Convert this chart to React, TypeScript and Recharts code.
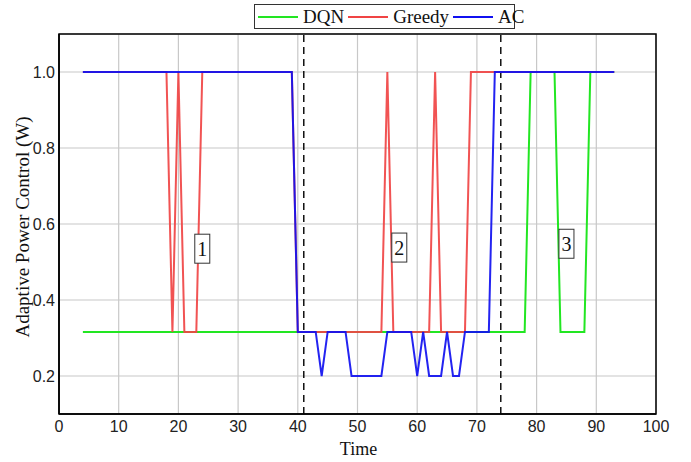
import React from 'react';
import {
  LineChart,
  Line,
  XAxis,
  YAxis,
  CartesianGrid,
  ReferenceLine,
  ReferenceArea,
  ReferenceDot,
} from 'recharts';

// time steps 4..93
const timeSteps = [
  4, 5, 6, 7, 8, 9, 10, 11, 12, 13,
  14, 15, 16, 17, 18, 19, 20, 21, 22, 23,
  24, 25, 26, 27, 28, 29, 30, 31, 32, 33,
  34, 35, 36, 37, 38, 39, 40, 41, 42, 43,
  44, 45, 46, 47, 48, 49, 50, 51, 52, 53,
  54, 55, 56, 57, 58, 59, 60, 61, 62, 63,
  64, 65, 66, 67, 68, 69, 70, 71, 72, 73,
  74, 75, 76, 77, 78, 79, 80, 81, 82, 83,
  84, 85, 86, 87, 88, 89, 90, 91, 92, 93,
];

const dqnPower = [
  0.316, 0.316, 0.316, 0.316, 0.316, 0.316, 0.316, 0.316, 0.316, 0.316,
  0.316, 0.316, 0.316, 0.316, 0.316, 0.316, 0.316, 0.316, 0.316, 0.316,
  0.316, 0.316, 0.316, 0.316, 0.316, 0.316, 0.316, 0.316, 0.316, 0.316,
  0.316, 0.316, 0.316, 0.316, 0.316, 0.316, 0.316, 0.316, 0.316, 0.316,
  0.316, 0.316, 0.316, 0.316, 0.316, 0.316, 0.316, 0.316, 0.316, 0.316,
  0.316, 0.316, 0.316, 0.316, 0.316, 0.316, 0.316, 0.316, 0.316, 0.316,
  0.316, 0.316, 0.316, 0.316, 0.316, 0.316, 0.316, 0.316, 0.316, 0.316,
  0.316, 0.316, 0.316, 0.316, 0.316, 1, 1, 1, 1, 1,
  0.316, 0.316, 0.316, 0.316, 0.316, 1, 1, 1, 1, 1,
];

const greedyPower = [
  1, 1, 1, 1, 1, 1, 1, 1, 1, 1,
  1, 1, 1, 1, 1, 0.316, 1, 0.316, 0.316, 0.316,
  1, 1, 1, 1, 1, 1, 1, 1, 1, 1,
  1, 1, 1, 1, 1, 1, 0.316, 0.316, 0.316, 0.316,
  0.316, 0.316, 0.316, 0.316, 0.316, 0.316, 0.316, 0.316, 0.316, 0.316,
  0.316, 1, 0.316, 0.316, 0.316, 0.316, 0.316, 0.316, 0.316, 1,
  0.316, 0.316, 0.316, 0.316, 0.316, 1, 1, 1, 1, 1,
  1, 1, 1, 1, 1, 1, 1, 1, 1, 1,
  1, 1, 1, 1, 1, 1, 1, 1, 1, 1,
];

const acPower = [
  1, 1, 1, 1, 1, 1, 1, 1, 1, 1,
  1, 1, 1, 1, 1, 1, 1, 1, 1, 1,
  1, 1, 1, 1, 1, 1, 1, 1, 1, 1,
  1, 1, 1, 1, 1, 1, 0.316, 0.316, 0.316, 0.316,
  0.2, 0.316, 0.316, 0.316, 0.316, 0.2, 0.2, 0.2, 0.2, 0.2,
  0.2, 0.316, 0.316, 0.316, 0.316, 0.316, 0.2, 0.316, 0.2, 0.2,
  0.2, 0.316, 0.2, 0.2, 0.316, 0.316, 0.316, 0.316, 0.316, 1,
  1, 1, 1, 1, 1, 1, 1, 1, 1, 1,
  1, 1, 1, 1, 1, 1, 1, 1, 1, 1,
];

const xTicks = [0, 10, 20, 30, 40, 50, 60, 70, 80, 90, 100];
const yTicks = [0.2, 0.4, 0.6, 0.8, 1.0];

// phase boundaries and region markers
const phaseBounds = [41, 74];
const regionMarks = [
  { label: '1', t: 24, v: 0.535 },
  { label: '2', t: 57, v: 0.538 },
  { label: '3', t: 85, v: 0.548 },
];

const series = [
  { key: 'dqn', name: 'DQN', color: '#22e622' },
  { key: 'greedy', name: 'Greedy', color: '#f04444' },
  { key: 'ac', name: 'AC', color: '#1010f0' },
];

const data = timeSteps.map((t, i) => ({
  t,
  dqn: dqnPower[i],
  greedy: greedyPower[i],
  ac: acPower[i],
}));

const serif = '"Liberation Serif", "Times New Roman", serif';
const sans = '"Liberation Sans", Arial, sans-serif';

const BoxLabel = (text: string) => (props: any) => {
  const { cx, cy } = props;
  return (
    <g>
      <rect x={cx - 7.5} y={cy - 14.5} width={15} height={29} fill="#fff" stroke="#333" strokeWidth={1} />
      <text x={cx} y={cy + 7} textAnchor="middle" fontFamily={serif} fontSize={20} fill="#111">
        {text}
      </text>
    </g>
  );
};

const App: React.FC = () => {
  return (
    <div style={{ position: 'absolute', left: 0, top: 0, width: 691, height: 462, background: '#fff' }}>
      <LineChart
        width={691}
        height={462}
        data={data}
        margin={{ top: 34, right: 35, left: 0, bottom: 0 }}
      >
        <CartesianGrid stroke="#c8c8c8" strokeWidth={1.2} />
        <XAxis
          dataKey="t"
          type="number"
          domain={[0, 100]}
          ticks={xTicks}
          height={48}
          tickSize={0}
          tickMargin={7}
          axisLine={{ stroke: '#000', strokeWidth: 1.5 }}
          tick={{ fill: '#222', fontSize: 16, fontFamily: sans }}
          label={(props: any) => {
            const vb = props.viewBox;
            return (
              <text x={vb.x + vb.width / 2 + 1} y={vb.y + 41} textAnchor="middle" fontFamily={serif} fontSize={18} fill="#111">
                Time
              </text>
            );
          }}
        />
        <YAxis
          type="number"
          domain={[0.1, 1.1]}
          ticks={yTicks}
          width={59}
          tickSize={0}
          tickMargin={4}
          tickFormatter={(v: number) => v.toFixed(1)}
          axisLine={{ stroke: '#000', strokeWidth: 1.5 }}
          tick={{ fill: '#222', fontSize: 16, fontFamily: sans }}
          label={(props: any) => {
            const vb = props.viewBox;
            const cx = vb.x + 22;
            const cy = vb.y + vb.height / 2 + 3;
            return (
              <text
                x={cx}
                y={cy}
                transform={`rotate(-90 ${cx} ${cy})`}
                textAnchor="middle"
                dominantBaseline="central"
                fontFamily={serif}
                fontSize={19}
                fill="#111"
              >
                Adaptive Power Control (W)
              </text>
            );
          }}
        />
        <ReferenceArea x1={0} x2={100} y1={0.1} y2={1.1} fill="none" stroke="#000" strokeWidth={1.5} />
        {phaseBounds.map((x) => (
          <ReferenceLine key={x} x={x} stroke="#111" strokeWidth={1.5} strokeDasharray="7 5" />
        ))}
        {series.map((s) => (
          <Line
            key={s.key}
            type="linear"
            dataKey={s.key}
            name={s.name}
            stroke={s.color}
            strokeWidth={2}
            strokeOpacity={s.key === 'dqn' ? 1 : 0.92}
            dot={false}
            isAnimationActive={false}
          />
        ))}
        {regionMarks.map((m) => (
          <ReferenceDot key={m.label} x={m.t} y={m.v} shape={BoxLabel(m.label)} />
        ))}
      </LineChart>

      {/* legend box above the plot */}
      <div
        style={{
          position: 'absolute',
          left: 254,
          top: 4,
          width: 261,
          height: 25,
          boxSizing: 'border-box',
          border: '1px solid #333',
          background: '#fff',
          display: 'flex',
          alignItems: 'center',
          paddingLeft: 3,
          fontFamily: serif,
          fontSize: 19,
          color: '#111',
        }}
      >
        {series.map((s) => (
          <div key={s.key} style={{ display: 'flex', alignItems: 'center', marginRight: 4 }}>
            <span style={{ display: 'inline-block', width: 40, height: 2, background: s.color, marginRight: 5 }} />
            <span style={{ lineHeight: '19px' }}>{s.name}</span>
          </div>
        ))}
      </div>
    </div>
  );
};

export default App;
